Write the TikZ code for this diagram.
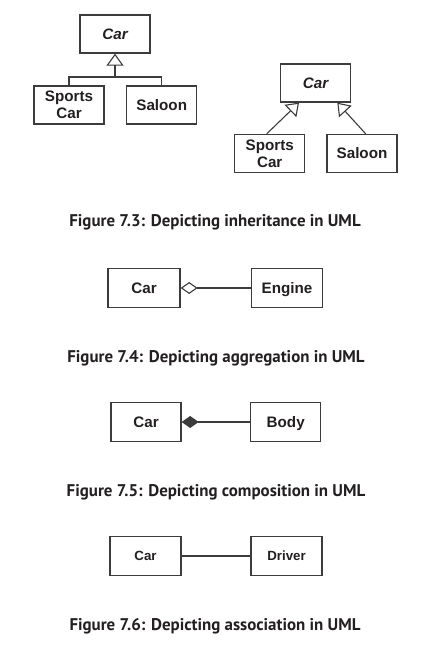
\documentclass[tikz,border=0pt]{standalone}
\usepackage{fontspec}
\setmainfont{Liberation Sans}
\newfontfamily\captionfont{PT Sans}
\usepackage{xcolor}
\usetikzlibrary{arrows.meta, positioning, calc}
\definecolor{umlline}{RGB}{60,60,60}
\definecolor{umltext}{RGB}{35,31,32}
\tikzset{
  classbox/.style={draw=umlline, line width=1.3pt, minimum width=70pt, minimum height=38pt,
    inner sep=0pt, align=center, text=umltext, font=\fontsize{15.2}{17}\selectfont\bfseries},
  onebox/.style={classbox, text height=11pt, text depth=0pt},
  smallbox/.style={onebox, minimum width=71pt, minimum height=39pt, text height=9.6pt,
    font=\fontsize{13.3}{15}\selectfont\bfseries},
  figcap/.style={anchor=base, text=umltext, font=\captionfont\fontsize{16.9}{19}\selectfont\bfseries},
  link/.style={draw=umlline, line width=1.1pt},
  inherit/.style={link, -{Triangle[open, length=12pt, width=17pt, line width=1.1pt]}},
  aggr/.style={link, {Diamond[open, length=17pt, width=12pt, line width=1.1pt]}-},
  comp/.style={link, {Diamond[length=17pt, width=12pt]}-}
}
\begin{document}
\begin{tikzpicture}[x=1pt, y=-1pt]
\useasboundingbox (0,0) rectangle (433,655);

% Inheritance, tree style
\node[onebox] (car1) at (115,34) {\itshape Car};
\node[classbox] (sports1) at (69,105) {Sports\\Car};
\node[onebox] (saloon1) at (161.7,105) {Saloon};
\coordinate (joint1) at (115,77);
\draw[inherit] (joint1) -- (car1.south);
\draw[link] (sports1.north) |- (joint1) -| (saloon1.north);

% Inheritance, separate arrows
\node[onebox] (car2) at (315.5,83) {\itshape Car};
\node[classbox] (sports2) at (269.7,153.5) {Sports\\Car};
\node[onebox] (saloon2) at (362,153.5) {Saloon};
\draw[inherit] ([xshift=-3pt]sports2.north) -- ([xshift=-16.5pt]car2.south);
\draw[inherit] ([xshift=3.7pt]saloon2.north) -- ([xshift=21.8pt]car2.south);

\node[figcap] (cap3) at (215,226.7) {Figure 7.3: Depicting inheritance in UML};

% Aggregation
\node[onebox, minimum width=72pt, minimum height=39pt] (car3) at (144,288) {Car};
\node[onebox, minimum width=71pt, minimum height=39pt] (engine) at (287,288) {Engine};
\draw[aggr] (car3) -- (engine);

\node[figcap] (cap4) at (216,362.7) {Figure 7.4: Depicting aggregation in UML};

% Composition
\node[onebox, minimum height=39pt] (car4) at (146,422) {Car};
\node[onebox, minimum height=39pt] (body) at (285.7,422) {Body};
\draw[comp] (car4) -- (body);

\node[figcap] (cap5) at (216,496.7) {Figure 7.5: Depicting composition in UML};

% Association
\node[smallbox] (car5) at (145.5,556) {Car};
\node[smallbox] (driver) at (286.5,556) {Driver};
\draw[link] (car5) -- (driver);

\node[figcap] (cap6) at (215,630.7) {Figure 7.6: Depicting association in UML};
\end{tikzpicture}
\end{document}
